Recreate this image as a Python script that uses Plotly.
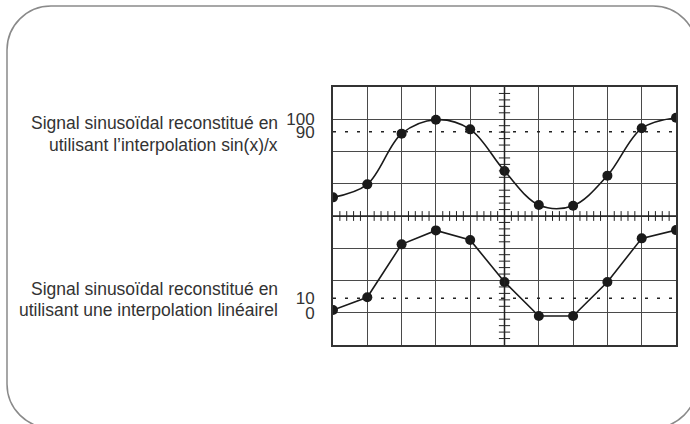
import plotly.graph_objects as go
import numpy as np

W, H = 690, 424

# échantillons (une division = un échantillon)
sample_x = list(range(11))
sinx_values = [39.5, 49.5, 88.5, 99.2, 91.8, 59.8, 33.6, 33.1, 56.2, 92.6, 100.8]
linear_values = [2.2, 10.7, 46.0, 55.3, 48.9, 20.9, -1.8, -1.8, 20.9, 50.0, 55.5]

upper_ticks = [90, 100]
lower_ticks = [0, 10]
upper_dotted = 90
lower_dotted = 10

upper_label = ["Signal sinusoïdal reconstitué en", "utilisant l’interpolation sin(x)/x"]
lower_label = ["Signal sinusoïdal reconstitué en", "utilisant une interpolation linéairel"]

TXT = "#333333"
GRID = "#4a4a4a"
FONT = "Liberation Sans, Arial, sans-serif"


def px(x, y):
    """pixels -> coordonnées papier"""
    return x / W, 1 - y / H


def rounded_rect(x0, y0, x1, y1, r):
    k = 0.5523 * r

    def p(x, y):
        a, b = px(x, y)
        return f"{a:.5f},{b:.5f}"
    path = f"M {p(x0 + r, y0)} L {p(x1 - r, y0)} "
    path += f"C {p(x1 - r + k, y0)} {p(x1, y0 + r - k)} {p(x1, y0 + r)} "
    path += f"L {p(x1, y1 - r)} "
    path += f"C {p(x1, y1 - r + k)} {p(x1 - r + k, y1)} {p(x1 - r, y1)} "
    path += f"L {p(x0 + r, y1)} "
    path += f"C {p(x0 + r - k, y1)} {p(x0, y1 - r + k)} {p(x0, y1 - r)} "
    path += f"L {p(x0, y0 + r)} "
    path += f"C {p(x0, y0 + r - k)} {p(x0 + r - k, y0)} {p(x0 + r, y0)} Z"
    return path


x_dom = [333 / W, 676 / W]
y_dom = [(H - 345) / H, (H - 87) / H]

fig = go.Figure()

# graduations des axes centraux
minor = np.round(np.arange(0, 10.001, 0.2), 2)
minor_x = [v for v in minor if abs(v - round(v)) > 1e-6]
fig.add_trace(go.Scatter(
    x=minor_x, y=[0] * len(minor_x), mode="markers",
    marker=dict(symbol="line-ns", size=7, line=dict(width=1, color="#222")),
    hoverinfo="skip", showlegend=False
))
minor_v = np.round(np.arange(-4, 4.001, 0.2), 2)
minor_y = [v for v in minor_v if abs(v - round(v)) > 1e-6]
fig.add_trace(go.Scatter(
    x=[5] * len(minor_y), y=minor_y, mode="markers",
    marker=dict(symbol="line-ew", size=8, line=dict(width=1, color="#222")),
    hoverinfo="skip", showlegend=False
))

# signal sin(x)/x
fig.add_trace(go.Scatter(
    x=sample_x, y=sinx_values, yaxis="y2", mode="lines+markers",
    line=dict(color="#1a1a1a", width=1.6, shape="spline", smoothing=1.0),
    marker=dict(size=10, color="#1a1a1a"),
    showlegend=False
))
# signal linéaire
fig.add_trace(go.Scatter(
    x=sample_x, y=linear_values, yaxis="y3", mode="lines+markers",
    line=dict(color="#1a1a1a", width=1.6),
    marker=dict(size=10, color="#1a1a1a"),
    showlegend=False
))

shapes = [
    dict(type="path", xref="paper", yref="paper",
         path=rounded_rect(7, 6, 697, 428, 44),
         line=dict(color="#8a8a8a", width=1.5), layer="below"),
    dict(type="line", xref="x", yref="y", x0=5, x1=5, y0=-4, y1=4,
         line=dict(color="#222", width=1.5)),
    dict(type="line", xref="x", yref="y", x0=0, x1=10, y0=0, y1=0,
         line=dict(color="#222", width=1.5)),
    dict(type="line", xref="x", yref="y2", x0=0, x1=10,
         y0=upper_dotted, y1=upper_dotted,
         line=dict(color="#222", width=1.5, dash="3px,9px")),
    dict(type="line", xref="x", yref="y3", x0=0, x1=10,
         y0=lower_dotted, y1=lower_dotted,
         line=dict(color="#222", width=1.5, dash="3px,9px")),
]

annotations = []
for lines, ys in ((upper_label, (123, 145)), (lower_label, (289, 310))):
    for txt, yy in zip(lines, ys):
        ax, ay = px(280, yy)
        annotations.append(dict(
            x=ax, y=ay, xref="paper", yref="paper", text=txt,
            showarrow=False, xanchor="right", yanchor="middle",
            font=dict(family=FONT, size=17.5, color=TXT)
        ))

fig.update_layout(
    width=W, height=H,
    margin=dict(l=0, r=0, t=0, b=0),
    paper_bgcolor="white", plot_bgcolor="white",
    font=dict(family=FONT, size=17, color=TXT),
    xaxis=dict(domain=x_dom, range=[0, 10], dtick=1, showgrid=True,
               gridcolor=GRID, gridwidth=1.3, zeroline=False,
               showline=True, mirror=True, linecolor="#333", linewidth=2,
               showticklabels=False, fixedrange=True),
    yaxis=dict(domain=y_dom, range=[-4, 4], dtick=1, showgrid=True,
               gridcolor=GRID, gridwidth=1.3, zeroline=False,
               showline=True, mirror=True, linecolor="#333", linewidth=2,
               showticklabels=False, fixedrange=True),
    yaxis2=dict(overlaying="y", anchor="x", side="left",
                range=[-74.1, 124.4], tickvals=upper_ticks,
                ticks="outside", ticklen=14, tickcolor="rgba(0,0,0,0)",
                showgrid=False, zeroline=False, showline=False,
                tickfont=dict(size=17, color=TXT)),
    yaxis3=dict(overlaying="y", anchor="x", side="left",
                range=[-21.1, 150.9], tickvals=lower_ticks,
                ticks="outside", ticklen=14, tickcolor="rgba(0,0,0,0)",
                showgrid=False, zeroline=False, showline=False,
                tickfont=dict(size=17, color=TXT)),
    shapes=shapes,
    annotations=annotations,
    showlegend=False,
)

# la page ajoute 8 px de marge au body : on l'annule
fig.write_html("out.html", config={"displayModeBar": False},
               post_script="document.body.style.margin='0';")
